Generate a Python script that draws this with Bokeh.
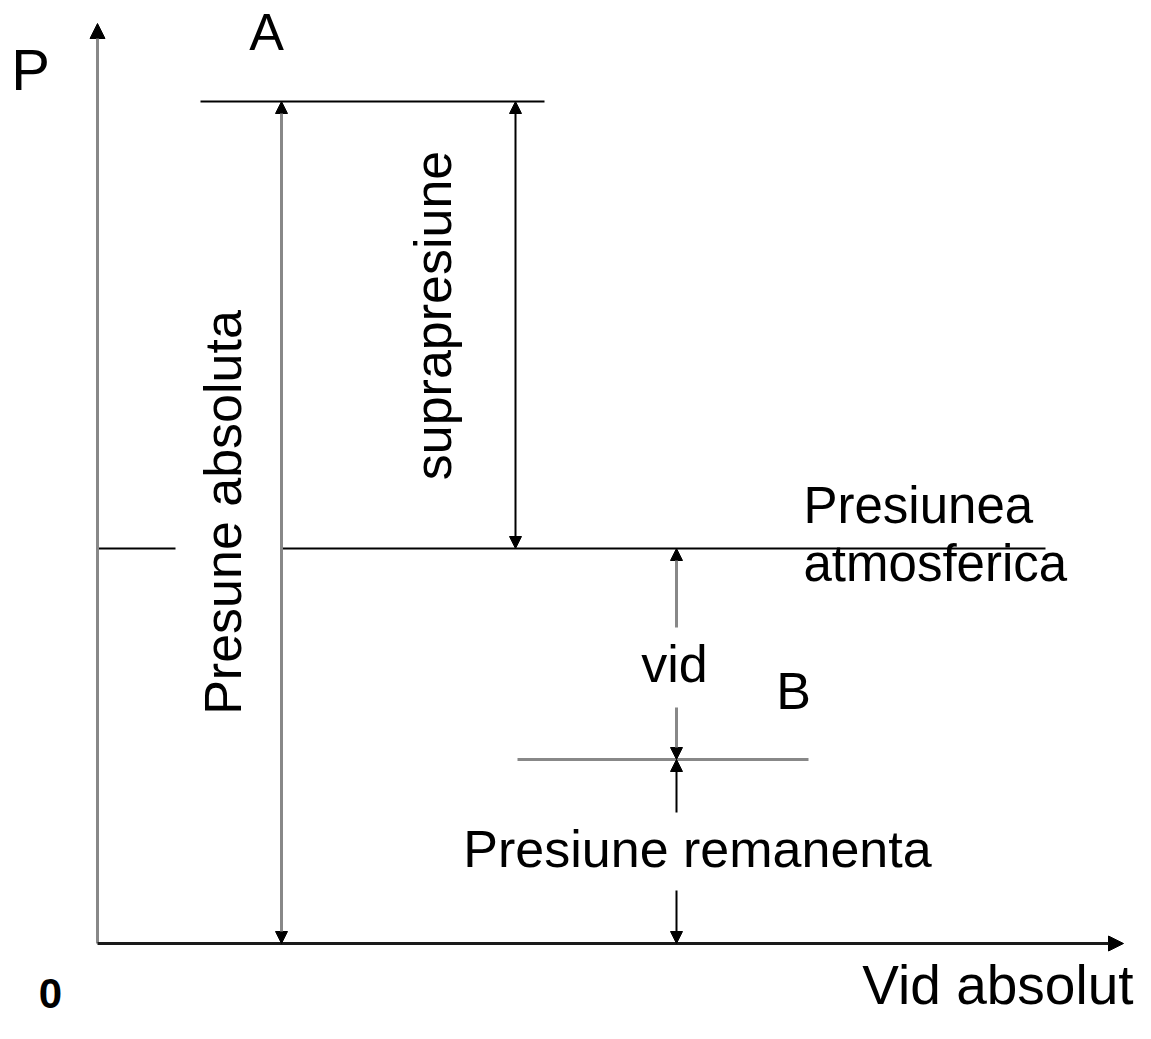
from bokeh.plotting import figure
from bokeh.models import Range1d, Arrow, NormalHead, ColumnDataSource
from bokeh.core.properties import value
from bokeh.embed import file_html
from bokeh.resources import INLINE
import math

# ---- diagram data (pressure levels and schematic positions) ----
P_A = 842          # absolute pressure at A
P_ATM = 395        # atmospheric pressure
P_B = 184          # residual pressure at B
X_END = 1026       # end of horizontal axis
Y_END = 920        # end of pressure axis

# horizontal level lines: x0, x1, level, colour, width
line_x0 = [103, 0, 184, 420]
line_x1 = [447, 78, 948, 711]
line_y = [P_A, P_ATM, P_ATM, P_B]
line_color = ["black", "black", "black", "#888888"]
line_w = [2, 2, 2, 3]

# arrow columns
x_abs = 184
x_supra = 418
x_vid = 579
gap_vid = [316, 236]     # text gap for "vid"
gap_rem = [131, 53]      # text gap for "Presiune remanenta"

# labels (baseline positions)
h_labels = ["A", "vid", "B", "Presiune remanenta"]
h_x = [169, 577, 696, 600]
h_y = [891, 259, 232, 74]

left_labels = ["Presiunea", "atmosferica"]
left_x = [706, 706]
left_y = [418, 360]

v_labels = ["Presune absoluta", "suprapresiune"]
v_x = [146, 356]
v_y = [431, 628]

FONT = value("Liberation Sans")
BASE_FIX = 0.385   # svg baseline correction, in em


def fix(vals, size):
    return [v + BASE_FIX * size for v in vals]


def fixv(vals, size):
    return [v - BASE_FIX * size for v in vals]


p = figure(width=1135, height=1023, x_range=Range1d(-97, 1038), y_range=Range1d(-80, 943),
           output_backend="svg", toolbar_location=None, min_border=0,
           x_axis_location=None, y_axis_location=None)
p.grid.visible = False
p.outline_line_color = None
p.background_fill_color = "white"
p.border_fill_color = "white"

# level lines
p.segment(x0=line_x0, y0=line_y, x1=line_x1, y1=line_y, line_color=line_color, line_width=line_w)


def head(size=12):
    return NormalHead(size=size, fill_color="black", line_color="black", line_width=1)


# axes with arrows
p.add_layout(Arrow(end=head(15), x_start=0, y_start=0, x_end=0, y_end=Y_END,
                   line_color="#888888", line_width=3))
p.add_layout(Arrow(end=head(15), x_start=0, y_start=0, x_end=X_END, y_end=0,
                   line_color="#1a1a1a", line_width=3))

# absolute pressure (grey double arrow)
p.add_layout(Arrow(start=head(), end=head(), x_start=x_abs, y_start=0, x_end=x_abs, y_end=P_A,
                   line_color="#888888", line_width=3))
# overpressure (black double arrow)
p.add_layout(Arrow(start=head(), end=head(), x_start=x_supra, y_start=P_ATM, x_end=x_supra, y_end=P_A,
                   line_color="black", line_width=2))

# vacuum (grey, split around label)
vid_src = ColumnDataSource(dict(xs=[x_vid, x_vid], ys=gap_vid, xe=[x_vid, x_vid], ye=[P_ATM, P_B]))
p.add_layout(Arrow(end=head(), source=vid_src, x_start="xs", y_start="ys", x_end="xe", y_end="ye",
                   line_color="#888888", line_width=3))
# residual pressure (black, split around label)
rem_src = ColumnDataSource(dict(xs=[x_vid, x_vid], ys=gap_rem, xe=[x_vid, x_vid], ye=[P_B, 0]))
p.add_layout(Arrow(end=head(), source=rem_src, x_start="xs", y_start="ys", x_end="xe", y_end="ye",
                   line_color="black", line_width=2))

# texts
p.text(x=h_x, y=fix(h_y, 52), text=h_labels, text_font=FONT, text_font_size="52px",
       text_align="center", text_baseline="alphabetic", text_color="black")
p.text(x=left_x, y=fix(left_y, 51), text=left_labels, text_font=FONT, text_font_size="51px",
       text_align="left", text_baseline="alphabetic", text_color="black")
p.text(x=fixv(v_x, 52), y=v_y, text=v_labels, angle=math.pi / 2, text_font=FONT, text_font_size="52px",
       text_align="center", text_baseline="alphabetic", text_color="black")
p.text(x=[-67], y=fix([852], 58), text=["P"], text_font=FONT, text_font_size="58px",
       text_align="center", text_baseline="alphabetic", text_color="black")
p.text(x=[1036], y=fix([-63], 55), text=["Vid absolut"], text_font=FONT, text_font_size="55px",
       text_align="right", text_baseline="alphabetic", text_color="black")
p.text(x=[-47], y=fix([-66], 42), text=["0"], text_font=FONT, text_font_size="42px", text_font_style="bold",
       text_align="center", text_baseline="alphabetic", text_color="black")

open("out.html", "w").write(file_html(p, INLINE))
